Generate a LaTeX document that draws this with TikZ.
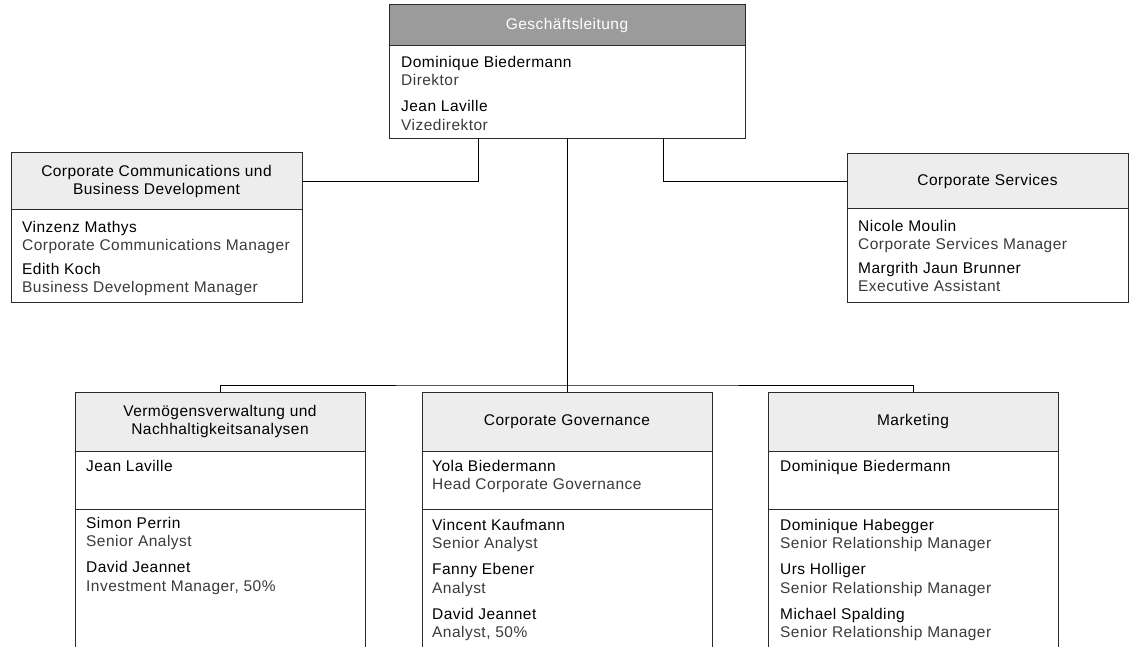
\documentclass[tikz,border=0pt]{standalone}
\usepackage{fontspec}
\setmainfont{Liberation Sans}[LetterSpace=3]
\usetikzlibrary{positioning}

\definecolor{headdark}{HTML}{9B9B9B}
\definecolor{headlight}{HTML}{EDEDED}
\definecolor{rolegray}{HTML}{3A3A3A}
\definecolor{linegray}{HTML}{2A2A2A}

% name and role of one person
\newcommand{\pers}[2]{#1\\\textcolor{rolegray}{#2}}

\tikzset{
  unit/.style={draw=linegray, line width=1pt, rectangle, inner sep=0pt, outer sep=0pt},
  headbox/.style={unit, fill=headlight, align=center,
    font=\fontsize{15.5}{18}\selectfont},
  bosshead/.style={headbox, fill=headdark, text=white},
  bodybox/.style={unit},
  staff/.style={anchor=north west, inner sep=0pt, align=left,
    font=\fontsize{15.5}{18.5}\selectfont},
  link/.style={draw=black, line width=0.9pt}
}

\begin{document}
\begin{tikzpicture}[x=1pt,y=-1pt,node distance=0pt]
  \useasboundingbox (0,0) rectangle (1130,647);

  % Geschaeftsleitung at the top
  \node [bosshead, anchor=north west, minimum width=356pt, minimum height=41pt]
    (glhead) at (389,5) {Geschäftsleitung};
  \node [bodybox, minimum width=356pt, minimum height=93pt, below=of glhead] (glbody) {};
  \node [staff] (gltext) at ([xshift=12pt,yshift=-9pt]glbody.north west)
    {\rule{0pt}{12pt}\pers{Dominique Biedermann}{Direktor}\\[7.5pt]
     \pers{Jean Laville}{Vizedirektor}};

  % Staff units left and right
  \node [headbox, anchor=north west, minimum width=291pt, minimum height=57pt]
    (ccbdhead) at (11,153) {Corporate Communications und\\Business Development};
  \node [bodybox, minimum width=291pt, minimum height=92pt, below=of ccbdhead] (ccbdbody) {};
  \node [staff] (ccbdtext) at ([xshift=11pt,yshift=-10pt]ccbdbody.north west)
    {\rule{0pt}{12pt}\pers{Vinzenz Mathys}{Corporate Communications Manager}\\[5pt]
     \pers{Edith Koch}{Business Development Manager}};

  \node [headbox, anchor=north west, minimum width=281pt, minimum height=55pt]
    (cshead) at (847,154) {Corporate Services};
  \node [bodybox, minimum width=281pt, minimum height=93pt, below=of cshead] (csbody) {};
  \node [staff] (cstext) at ([xshift=11pt,yshift=-10pt]csbody.north west)
    {\rule{0pt}{12pt}\pers{Nicole Moulin}{Corporate Services Manager}\\[5pt]
     \pers{Margrith Jaun Brunner}{Executive Assistant}};

  % Three departments at the bottom
  \node [headbox, anchor=north west, minimum width=290pt, minimum height=59pt]
    (vnhead) at (75,392) {Vermögensverwaltung und\\Nachhaltigkeitsanalysen};
  \node [bodybox, minimum width=290pt, minimum height=58pt, below=of vnhead] (vnlead) {};
  \node [staff] (vnlt) at ([xshift=11pt,yshift=-8pt]vnlead.north west)
    {\rule{0pt}{12pt}Jean Laville};
  \node [staff] (vnst) at ([xshift=11pt,yshift=-7pt]vnlead.south west)
    {\rule{0pt}{12pt}\pers{Simon Perrin}{Senior Analyst}\\[7.5pt]
     \pers{David Jeannet}{Investment Manager, 50\%}};

  \node [headbox, anchor=north west, minimum width=290pt, minimum height=59pt]
    (cgvhead) at (422,392) {Corporate Governance};
  \node [bodybox, minimum width=290pt, minimum height=58pt, below=of cgvhead] (cgvlead) {};
  \node [staff] (cgvlt) at ([xshift=10pt,yshift=-8pt]cgvlead.north west)
    {\rule{0pt}{12pt}\pers{Yola Biedermann}{Head Corporate Governance}};
  \node [staff] (cgvst) at ([xshift=10pt,yshift=-9pt]cgvlead.south west)
    {\rule{0pt}{12pt}\pers{Vincent Kaufmann}{Senior Analyst}\\[7.5pt]
     \pers{Fanny Ebener}{Analyst}\\[7.5pt]
     \pers{David Jeannet}{Analyst, 50\%}};

  \node [headbox, anchor=north west, minimum width=290pt, minimum height=59pt]
    (mkhead) at (768,392) {Marketing};
  \node [bodybox, minimum width=290pt, minimum height=58pt, below=of mkhead] (mklead) {};
  \node [staff] (mklt) at ([xshift=12pt,yshift=-8pt]mklead.north west)
    {\rule{0pt}{12pt}Dominique Biedermann};
  \node [staff] (mkst) at ([xshift=12pt,yshift=-9pt]mklead.south west)
    {\rule{0pt}{12pt}\pers{Dominique Habegger}{Senior Relationship Manager}\\[7.5pt]
     \pers{Urs Holliger}{Senior Relationship Manager}\\[7.5pt]
     \pers{Michael Spalding}{Senior Relationship Manager}};

  % Open lower part of the department boxes
  \foreach \d in {vnlead,cgvlead,mklead} {
    \draw [linegray,line width=1pt] (\d.south west) -- (\d.south west |- 0,647);
    \draw [linegray,line width=1pt] (\d.south east) -- (\d.south east |- 0,647);
  }

  % Draw connecting lines
  \draw [link] ([xshift=-89pt]glbody.south) |- (ccbdhead.east);
  \draw [link] ([xshift=96pt]glbody.south) |- (cshead.west);
  \coordinate (bar) at (567,385);
  \draw [link] (glbody.south) -- (cgvhead.north);
  \draw [link] (vnhead.north) |- (bar) -| (mkhead.north);

\end{tikzpicture}
\end{document}
